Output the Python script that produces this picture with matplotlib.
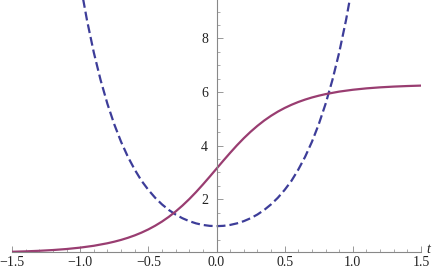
import matplotlib
matplotlib.use("Agg")
import matplotlib.pyplot as plt
from matplotlib.ticker import MultipleLocator, FixedLocator

# purple curve (solid)
t_purple = [-1.5, -1.4, -1.3, -1.2, -1.1, -1.0, -0.9, -0.8, -0.75, -0.7, -0.65, -0.6, -0.55,
            -0.5, -0.45, -0.4, -0.35, -0.3, -0.25, -0.2, -0.15, -0.1, -0.05, 0.0,
            0.05, 0.1, 0.15, 0.2, 0.25, 0.3, 0.35, 0.4, 0.45, 0.5, 0.55, 0.6, 0.65,
            0.7, 0.75, 0.8, 0.9, 1.0, 1.1, 1.2, 1.3, 1.4, 1.5]
y_purple = [0.044, 0.060, 0.081, 0.109, 0.147, 0.199, 0.268, 0.362, 0.420, 0.487, 0.565, 0.655, 0.759,
            0.878, 1.015, 1.170, 1.346, 1.545, 1.765, 2.007, 2.270, 2.551, 2.843, 3.142,
            3.441, 3.732, 4.013, 4.276, 4.518, 4.738, 4.937, 5.113, 5.269, 5.405, 5.524, 5.628, 5.718,
            5.796, 5.863, 5.921, 6.015, 6.084, 6.136, 6.174, 6.202, 6.223, 6.239]

# blue curve (dashed)
t_blue = [-1.0, -0.95, -0.9, -0.85, -0.8, -0.75, -0.7, -0.65, -0.6, -0.55, -0.5, -0.45, -0.4,
          -0.35, -0.3, -0.25, -0.2, -0.15, -0.1, -0.05, 0.0, 0.05, 0.1, 0.15, 0.2, 0.25,
          0.3, 0.35, 0.4, 0.45, 0.5, 0.55, 0.6, 0.65, 0.7, 0.75, 0.8, 0.85, 0.9, 0.95, 1.0]
y_blue = [10.068, 8.678, 7.474, 6.443, 5.557, 4.797, 4.144, 3.585, 3.108, 2.691, 2.352, 2.058, 1.811,
          1.604, 1.433, 1.295, 1.186, 1.103, 1.045, 1.011, 1.0, 1.011, 1.045, 1.103, 1.186, 1.295,
          1.433, 1.604, 1.811, 2.058, 2.352, 2.691, 3.108, 3.585, 4.144, 4.797, 5.557, 6.443, 7.474, 8.678, 10.068]

x_ticks = [-1.5, -1.0, -0.5, 0.0, 0.5, 1.0, 1.5]
x_labels = ["\u22121.5", "\u22121.0", "\u22120.5", "0.0", "0.5", "1.0", "1.5"]
y_ticks = [2, 4, 6, 8]
y_labels = ["2", "4", "6", "8"]

plt.rcParams['font.family'] = 'serif'
plt.rcParams['font.serif'] = ['Liberation Serif', 'DejaVu Serif']

fig = plt.figure(figsize=(4.36, 2.71), dpi=100)
ax = fig.add_axes([12/436, 1 - 252/271, (421-12)/436, 252/271])

ax.plot(t_blue, y_blue, color="#3d3d99", lw=1.6, dashes=(4, 1.8), solid_capstyle='butt')
ax.plot(t_purple, y_purple, color="#993d71", lw=1.6)

ax.set_xlim(-1.5, 1.5)
ax.set_ylim(0.036, 9.43)

for s in ['top', 'right']:
    ax.spines[s].set_visible(False)
ax.spines['left'].set_position(('data', 0))
ax.spines['left'].set_color('#888888')
ax.spines['bottom'].set_color('#888888')
ax.spines['left'].set_linewidth(0.8)
ax.spines['bottom'].set_linewidth(0.8)

ax.xaxis.set_major_locator(FixedLocator(x_ticks))
ax.set_xticklabels(x_labels)
ax.xaxis.set_minor_locator(MultipleLocator(0.1))
ax.yaxis.set_major_locator(FixedLocator(y_ticks))
ax.set_yticklabels(y_labels)
ax.yaxis.set_minor_locator(MultipleLocator(0.5))

ax.tick_params(axis='both', which='major', direction='in', length=4, width=0.6,
               color='#888888', labelsize=10, labelcolor='#222222', pad=3)
ax.tick_params(axis='both', which='minor', direction='in', length=2.2, width=0.5, color='#888888')
ax.tick_params(axis='y', which='both', pad=6)

ax.text(1.012, 0.01, "t", transform=ax.transAxes, fontsize=10, style='italic',
        ha='left', va='center', color='#222222')

fig.savefig("out.png", dpi=100)
